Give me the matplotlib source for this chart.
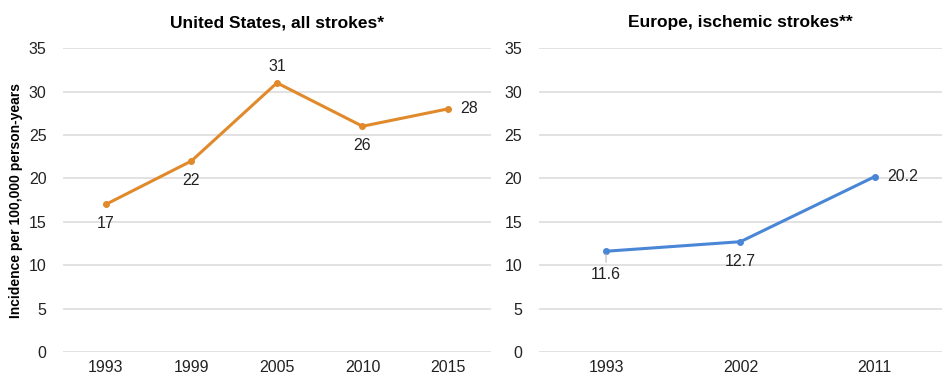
import matplotlib
matplotlib.use("Agg")
from matplotlib import pyplot as plt

plt.rcParams['font.family'] = ['Liberation Sans', 'DejaVu Sans']

us_years = ['1993', '1999', '2005', '2010', '2015']
us_values = [17, 22, 31, 26, 28]
us_labels = ['17', '22', '31', '26', '28']

eu_years = ['1993', '2002', '2011']
eu_values = [11.6, 12.7, 20.2]
eu_labels = ['11.6', '12.7', '20.2']

yticks = [0, 5, 10, 15, 20, 25, 30, 35]

orange = '#E08A2C'
blue = '#4A86D6'


def style_axes(ax, n):
    ax.set_ylim(0, 35)
    ax.set_xlim(-0.5, n - 0.5)
    ax.set_yticks(yticks)
    ax.grid(axis='y', color='#DDDDDD', linewidth=1.2)
    ax.set_axisbelow(True)
    for s in ax.spines.values():
        s.set_visible(False)
    ax.tick_params(length=0, labelsize=11.5, colors='#222222')
    ax.tick_params(axis='y', pad=12)
    ax.tick_params(axis='x', pad=6)


fig = plt.figure(figsize=(9.42, 3.76), dpi=100)

ax1 = fig.add_axes([0.067, 0.064, 0.454, 0.808])
x1 = list(range(len(us_years)))
ax1.plot(x1, us_values, color=orange, linewidth=2.2, marker='o', markersize=4)
ax1.set_xticks(x1)
ax1.set_xticklabels(us_years)
style_axes(ax1, len(us_years))
ax1.set_title('United States, all strokes*', fontsize=12.5, fontweight='bold', pad=15)
ax1.set_ylabel('Incidence per 100,000 person-years', fontsize=10, fontweight='bold', labelpad=4)
# label positions: below, below, above, below, right
offsets = [(0, -14), (0, -14), (0, 12), (0, -14), (15, 0)]
for i, (v, t) in enumerate(zip(us_values, us_labels)):
    dx, dy = offsets[i]
    ax1.annotate(t, (i, v), xytext=(dx, dy), textcoords='offset points',
                 ha='center', va='center', fontsize=11.5, color='#222222')

ax2 = fig.add_axes([0.572, 0.064, 0.428, 0.808])
x2 = list(range(len(eu_years)))
ax2.plot(x2, eu_values, color=blue, linewidth=2.2, marker='o', markersize=4)
ax2.set_xticks(x2)
ax2.set_xticklabels(eu_years)
style_axes(ax2, len(eu_years))
ax2.set_title('Europe, ischemic strokes**', fontsize=12.5, fontweight='bold', pad=15)
eu_offsets = [(0, -17), (0, -14), (20, 0)]
for i, (v, t) in enumerate(zip(eu_values, eu_labels)):
    dx, dy = eu_offsets[i]
    ax2.annotate(t, (i, v), xytext=(dx, dy), textcoords='offset points',
                 ha='center', va='center', fontsize=11.5, color='#222222')
# small leader line for the first label
ax2.annotate('', (0, eu_values[0]), xytext=(0, -10), textcoords='offset points',
             arrowprops=dict(arrowstyle='-', color='#BBBBBB', linewidth=0.8))

fig.savefig('out.png', dpi=100)
